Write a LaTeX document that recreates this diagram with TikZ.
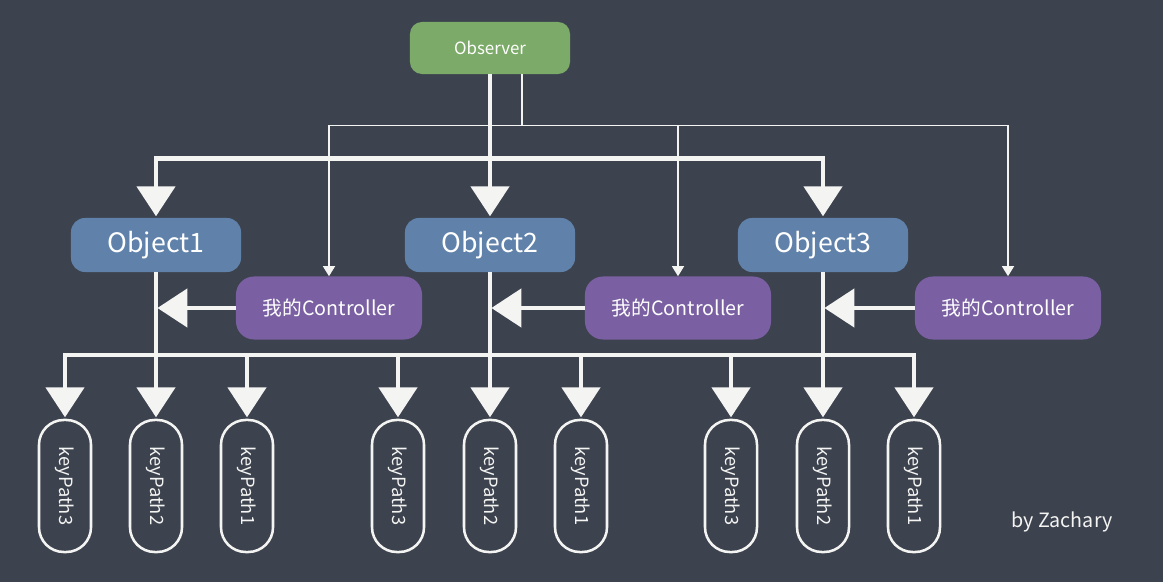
\documentclass[tikz,border=0pt]{standalone}
\usepackage{fontspec}
\setmainfont{Noto Sans CJK SC}
\usepackage{tikz}
\usetikzlibrary{arrows.meta,positioning,calc}
\definecolor{cboard}{RGB}{60,66,78}
\definecolor{cobserver}{RGB}{124,170,104}
\definecolor{cobject}{RGB}{96,130,170}
\definecolor{cctrl}{RGB}{122,96,162}
\definecolor{cchalk}{RGB}{244,244,242}
\tikzset{
  obsbox/.style={fill=cobserver, rounded corners=0.3cm,
    minimum width=4cm, minimum height=1.3cm,
    text=white, font=\fontsize{12}{14}\selectfont},
  objbox/.style={fill=cobject, rounded corners=0.35cm,
    minimum width=4.25cm, minimum height=1.35cm,
    text=white, font=\fontsize{19}{22}\selectfont},
  ctrlbox/.style={fill=cctrl, rounded corners=0.45cm,
    minimum width=4.65cm, minimum height=1.575cm,
    text=white, font=\fontsize{14}{16}\selectfont},
  keybox/.style={draw=cchalk, line width=1.8pt, rounded corners=0.62cm,
    minimum width=1.3cm, minimum height=3.3cm, inner sep=0pt,
    text=cchalk, font=\fontsize{13}{15}\selectfont},
  chalk/.style={draw=cchalk, line width=3.4pt},
  wire/.style={draw=cchalk, line width=1pt},
  bigtip/.style={-{Triangle[width=0.95cm,length=0.75cm]}, shorten >=1pt},
  smalltip/.style={-{Triangle[width=0.3cm,length=0.25cm]}}
}

\begin{document}
\begin{tikzpicture}[x=0.025cm, y=-0.025cm]
        \useasboundingbox (0,0) rectangle (1163,582);
        \fill[cboard] (0,0) rectangle (1163,582);

        % observer, objects, controllers
        \node[obsbox] (obs) at (490,48) {Observer};

        \node[objbox] (o1) at (156,245) {Object1};
        \node[objbox] (o2) at (490,245) {Object2};
        \node[objbox] (o3) at (823,245) {Object3};

        \node[ctrlbox] (c1) at (329,308) {我的Controller};
        \node[ctrlbox] (c2) at (678,308) {我的Controller};
        \node[ctrlbox] (c3) at (1008,308) {我的Controller};

        % key paths
        \node[keybox] (kp13) at (65,486)  {\rotatebox{-90}{keyPath3}};
        \node[keybox] (kp12) at (156,486) {\rotatebox{-90}{keyPath2}};
        \node[keybox] (kp11) at (247,486) {\rotatebox{-90}{keyPath1}};
        \node[keybox] (kp23) at (398,486) {\rotatebox{-90}{keyPath3}};
        \node[keybox] (kp22) at (490,486) {\rotatebox{-90}{keyPath2}};
        \node[keybox] (kp21) at (581,486) {\rotatebox{-90}{keyPath1}};
        \node[keybox] (kp33) at (731,486) {\rotatebox{-90}{keyPath3}};
        \node[keybox] (kp32) at (823,486) {\rotatebox{-90}{keyPath2}};
        \node[keybox] (kp31) at (914,486) {\rotatebox{-90}{keyPath1}};

        \node[text=cchalk, font=\fontsize{14}{16}\selectfont]
          (sig) at (1062,522) {by Zachary};

        % observer -> objects
        \draw[chalk] (obs.south) -- ++(0,84) coordinate (split);
        \draw[chalk, bigtip] (split) -| (o1.north);
        \draw[chalk, bigtip] (split) -- (o2.north);
        \draw[chalk, bigtip] (split) -| (o3.north);

        % observer -> controllers
        \draw[wire] ($(obs.south)+(32,0)$) -- ++(0,51) coordinate (tsplit);
        \draw[wire, smalltip] (tsplit) -| (c1.north);
        \draw[wire, smalltip] (tsplit) -| (c2.north);
        \draw[wire, smalltip] (tsplit) -| (c3.north);

        % objects -> bus
        \coordinate (bus) at (0,355);
        \draw[chalk] (o1.south) -- (o1.south |- bus);
        \draw[chalk] (o2.south) -- (o2.south |- bus);
        \draw[chalk] (o3.south) -- (o3.south |- bus);
        \draw[chalk, line cap=rect] (kp13.north |- bus) -- (kp31.north |- bus);

        % controllers -> object lines
        \draw[chalk, bigtip] (c1.west) -- (c1.west -| o1.south);
        \draw[chalk, bigtip] (c2.west) -- (c2.west -| o2.south);
        \draw[chalk, bigtip] (c3.west) -- (c3.west -| o3.south);

        % bus -> key paths
        \draw[chalk, bigtip] (kp13.north |- bus) -- (kp13.north);
        \draw[chalk, bigtip] (kp12.north |- bus) -- (kp12.north);
        \draw[chalk, bigtip] (kp11.north |- bus) -- (kp11.north);
        \draw[chalk, bigtip] (kp23.north |- bus) -- (kp23.north);
        \draw[chalk, bigtip] (kp22.north |- bus) -- (kp22.north);
        \draw[chalk, bigtip] (kp21.north |- bus) -- (kp21.north);
        \draw[chalk, bigtip] (kp33.north |- bus) -- (kp33.north);
        \draw[chalk, bigtip] (kp32.north |- bus) -- (kp32.north);
        \draw[chalk, bigtip] (kp31.north |- bus) -- (kp31.north);
      \end{tikzpicture}
\end{document}
